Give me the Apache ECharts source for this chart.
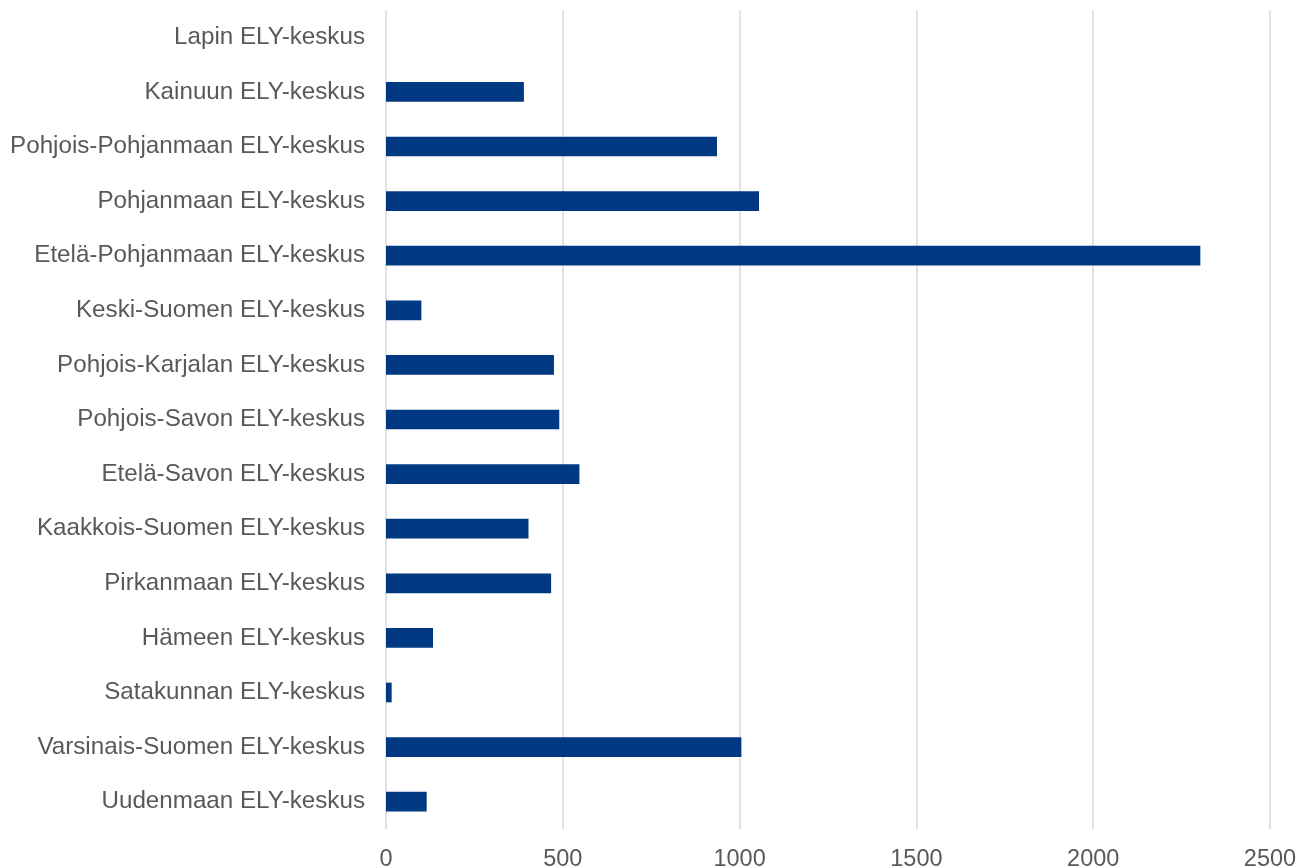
<!DOCTYPE html>
<html>
<head>
<meta charset="utf-8">
<script src="https://cdn.jsdelivr.net/npm/echarts@6/dist/echarts.min.js"></script>
<style>
html,body{margin:0;padding:0;background:#fff;}
#chart{width:1299px;height:868px;}
</style>
</head>
<body>
<div id="chart"></div>
<script>
// Categories listed bottom-to-top (as they appear from the axis origin upward)
const categories = [
  "Uudenmaan ELY-keskus",
  "Varsinais-Suomen ELY-keskus",
  "Satakunnan ELY-keskus",
  "Hämeen ELY-keskus",
  "Pirkanmaan ELY-keskus",
  "Kaakkois-Suomen ELY-keskus",
  "Etelä-Savon ELY-keskus",
  "Pohjois-Savon ELY-keskus",
  "Pohjois-Karjalan ELY-keskus",
  "Keski-Suomen ELY-keskus",
  "Etelä-Pohjanmaan ELY-keskus",
  "Pohjanmaan ELY-keskus",
  "Pohjois-Pohjanmaan ELY-keskus",
  "Kainuun ELY-keskus",
  "Lapin ELY-keskus"
];
const values = [115, 1005, 16, 133, 467, 403, 547, 490, 475, 100, 2303, 1055, 936, 390, 0];
const xTicks = [0, 500, 1000, 1500, 2000, 2500];

const chart = echarts.init(document.getElementById('chart'));
chart.setOption({
  animation: false,
  backgroundColor: '#ffffff',
  grid: { left: 386, right: 29, top: 10, bottom: 39, containLabel: false, outerBoundsMode: 'none' },
  xAxis: {
    type: 'value',
    min: xTicks[0],
    max: xTicks[xTicks.length - 1],
    interval: 500,
    axisLine: { show: false },
    axisTick: { show: false },
    splitLine: { show: true, lineStyle: { color: '#d9d9d9', width: 1.5 } },
    axisLabel: {
      color: '#595959', fontSize: 23.5, fontFamily: 'Liberation Sans, Arial, sans-serif', margin: 19,
      formatter: function (v) { return String(v); }
    }
  },
  yAxis: {
    type: 'category',
    data: categories,
    axisLine: { show: false },
    axisTick: { show: false },
    splitLine: { show: false },
    axisLabel: { color: '#595959', fontSize: 24.2, fontFamily: 'Liberation Sans, Arial, sans-serif', margin: 21 }
  },
  series: [{
    type: 'bar',
    data: values,
    barWidth: '36%',
    itemStyle: { color: '#003882' }
  }]
});
</script>
</body>
</html>
